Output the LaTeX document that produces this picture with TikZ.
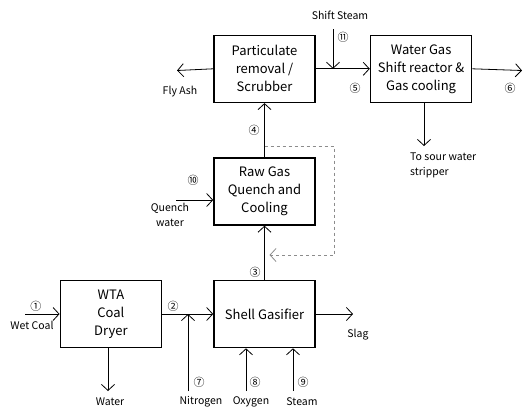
\documentclass[tikz,border=0pt]{standalone}
\usepackage{fontspec}
\setmainfont{Noto Sans CJK KR}
\usetikzlibrary{arrows.meta, positioning}

\begin{document}
\begin{tikzpicture}[x=1pt,y=-1pt,
  unit/.style={rectangle,draw,line width=1.6pt,minimum width=101pt,minimum height=67pt,inner sep=0pt,align=center,font=\fontsize{13}{18}\selectfont},
  flow/.style={-{Straight Barb[length=6pt,width=13pt]},line width=0.8pt},
  recycle/.style={flow,dashed,black!45},
  lbl/.style={inner sep=0pt,font=\fontsize{10.5}{15}\selectfont,align=center},
  num/.style={inner sep=0pt,font=\fontsize{11}{11}\selectfont}
]
\useasboundingbox (0,0) rectangle (523,408);

% Units
\node[unit] (gas) at (264.5,314) {Shell Gasifier};
\node[unit,left=51pt of gas] (dryer) {WTA\\Coal\\Dryer};
\node[unit,above=54pt of gas] (quench) {Raw Gas\\Quench and\\Cooling};
\node[unit,above=54pt of quench] (part) {Particulate\\removal /\\Scrubber};
\node[unit,right=54pt of part] (wgs) {Water Gas\\Shift reactor \&\\Gas cooling};

% Free ends
\coordinate (wc) at (25,314);
\coordinate (wt) at (108,391);
\coordinate (n2) at (188,391);
\coordinate (o2) at (246,391);
\coordinate (st) at (293,391);
\coordinate (sl) at (353,314);
\coordinate (qw) at (176,200);
\coordinate (fa) at (177,70.5);
\coordinate (ss) at (333,29);
\coordinate (out) at (522,70.5);
\coordinate (sw) at (424,146);
\coordinate (dtop) at (334,146);
\coordinate (dbot) at (334,255);

% Streams
\draw[flow] (wc) -- (dryer.west);
\draw[flow] (dryer.east) -- (gas.west);
\draw[flow] (wt |- dryer.south) -- (wt);
\draw[flow] (n2) -- (n2 |- gas.west);
\draw[flow] (o2) -- (o2 |- gas.south);
\draw[flow] (st) -- (st |- gas.south);
\draw[flow] (gas.east) -- (sl);
\draw[flow] (gas.north) -- (quench.south);
\draw[flow] (qw) -- (qw -| quench.west);
\draw[flow] (quench.north) -- (part.south);
\draw[flow] (part.west) -- (fa);
\draw[flow] (part.east) -- (wgs.west);
\draw[flow] (ss) -- (ss |- part.east);
\draw[flow] (wgs.east) -- (out);
\draw[flow] (sw |- wgs.south) -- (sw);
\draw[recycle] (quench.north |- dtop) -- (dtop) -- (dbot) -- ([xshift=5pt]gas.north |- dbot);

% Labels
\node[num] (s1) at (36,306) {①};
\node[lbl] (lwc) at (32,325) {Wet Coal};
\node[num] (s2) at (173,306) {②};
\node[num] (s3) at (255,272) {③};
\node[num] (s4) at (254,130) {④};
\node[num] (s5) at (355,88) {⑤};
\node[num] (s6) at (510,88) {⑥};
\node[num] (s7) at (199,382) {⑦};
\node[num] (s8) at (255,382) {⑧};
\node[num] (s9) at (303,382) {⑨};
\node[num] (s10) at (193,180) {⑩};
\node[num] (s11) at (343,37) {⑪};
\node[lbl] (lwt) at (110,402) {Water};
\node[lbl] (ln2) at (201,402) {Nitrogen};
\node[lbl] (lo2) at (251,402) {Oxygen};
\node[lbl] (lst) at (302,402) {Steam};
\node[lbl] (lsl) at (358,335) {Slag};
\node[lbl] (lqw) at (170,215) {Quench\\water};
\node[lbl] (lfa) at (180,92) {Fly Ash};
\node[lbl] (lss) at (340,15) {Shift Steam};
\node[lbl,align=left,anchor=west] (lsw) at (410,165) {To sour water\\stripper};
\end{tikzpicture}
\end{document}
